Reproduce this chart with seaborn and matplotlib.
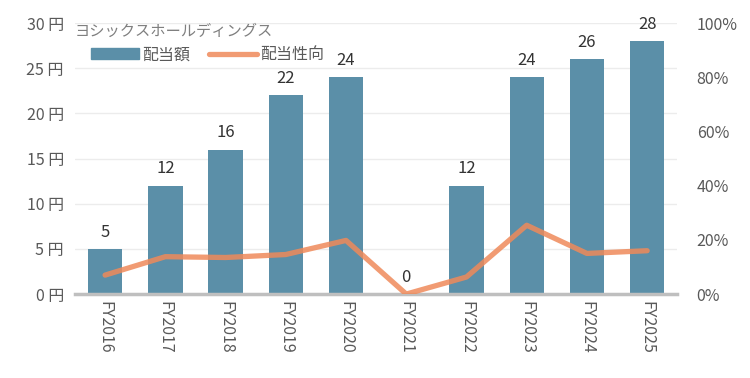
import matplotlib
matplotlib.use("Agg")
import matplotlib.pyplot as plt
import seaborn as sns
import pandas as pd
from matplotlib.lines import Line2D
from matplotlib.patches import Patch

years = ["FY2016", "FY2017", "FY2018", "FY2019", "FY2020",
         "FY2021", "FY2022", "FY2023", "FY2024", "FY2025"]
dividend = [5, 12, 16, 22, 24, 0, 12, 24, 26, 28]
payout = [7.0, 13.8, 13.5, 14.6, 19.8, 0.0, 6.3, 25.4, 15.0, 16.0]

title = "ヨシックスホールディングス"
bar_color = "#5b8fa8"
line_color = "#ef8a5a"
gray = "#595959"

sns.set_theme(style="white")
plt.rcParams["font.family"] = ["Noto Sans CJK JP", "DejaVu Sans"]

df = pd.DataFrame({"year": years, "dividend": dividend, "payout": payout})

fig = plt.figure(figsize=(7.5, 3.78), dpi=100)
ax = fig.add_axes([0.1, 0.222, 0.803, 0.717])
sns.barplot(data=df, x="year", y="dividend", color=bar_color, saturation=1,
            width=0.57, ax=ax, zorder=2, linewidth=0)
ax.set_ylim(0, 30)
ax.set_yticks(range(0, 31, 5))
ax.set_yticklabels([f"{v} 円" for v in range(0, 31, 5)], color=gray, fontsize=11.5)
ax.set_xlabel("")
ax.set_ylabel("")
ax.grid(axis="y", color="#ececec", linewidth=1, zorder=0)
ax.set_axisbelow(True)
for s in ["top", "right", "left"]:
    ax.spines[s].set_visible(False)
ax.spines["bottom"].set_color("#bfbfbf")
ax.spines["bottom"].set_linewidth(2.5)
ax.tick_params(axis="x", rotation=270, colors=gray, labelsize=11.5, length=0, pad=5)
ax.tick_params(axis="y", length=0, pad=8)
ax.set_xlim(-0.5, len(years) - 0.5)

for c in ax.containers:
    ax.bar_label(c, labels=[str(v) for v in dividend], padding=6,
                 fontsize=12, color="#333333")

ax2 = ax.twinx()
sns.lineplot(x=list(range(len(years))), y=payout, ax=ax2, color=line_color,
             linewidth=3.8, alpha=0.85)
ax2.set_ylim(0, 100)
ax2.set_yticks(range(0, 101, 20))
ax2.set_yticklabels([f"{v}%" for v in range(0, 101, 20)], color=gray, fontsize=11.5)
ax2.tick_params(axis="y", length=0, pad=14)
for s in ["top", "right", "left", "bottom"]:
    ax2.spines[s].set_visible(False)
ax2.set_xlim(-0.5, len(years) - 0.5)

ax2.text(0.0, 0.97, title, transform=ax2.transAxes, fontsize=11,
         color="#7f7f7f", ha="left", va="center")
handles = [Patch(color=bar_color), Line2D([0], [0], color=line_color, linewidth=3.8, alpha=0.85)]
ax2.legend(handles, ["配当額", "配当性向"], loc="upper left",
           bbox_to_anchor=(0.01, 0.95), ncol=2, frameon=False, fontsize=11.5,
           labelcolor=gray, handlelength=3.0, handletextpad=0.2, columnspacing=1.2,
           borderaxespad=0.2)

fig.savefig("out.png", dpi=100)
